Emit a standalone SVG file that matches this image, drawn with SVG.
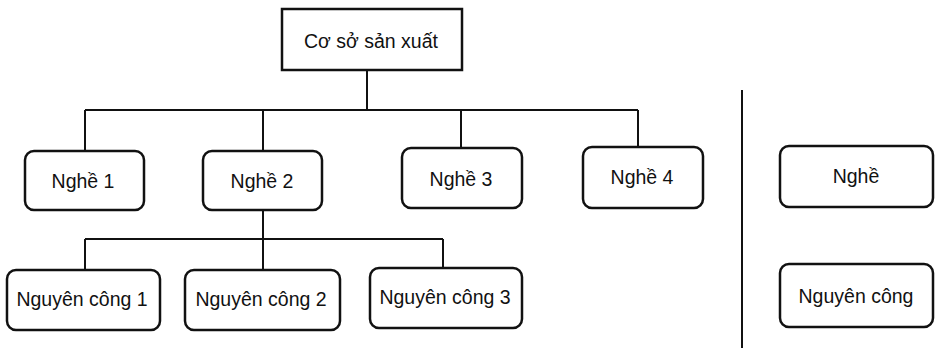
<svg xmlns="http://www.w3.org/2000/svg" width="937" height="348" viewBox="0 0 937 348">
<style>
.box{fill:#fff;stroke:#111;stroke-width:2.5}
.ln{fill:none;stroke:#111;stroke-width:2}
text{font-family:"Liberation Sans",Arial,sans-serif;font-size:19.5px;fill:#111;text-anchor:middle}
</style>
<rect width="937" height="348" fill="#fff"/>
<g id="connectors">
<path class="ln" d="M367 70V110M85 110H638M85 110V151M263 110V151M461 110V148M638 110V147"/>
<path class="ln" d="M85 239H443M263 210V270M85 239V270M443 239V268"/>
<path class="ln" d="M742 90V348"/>
</g>
<g id="root"><rect class="box" x="282" y="9" width="180" height="61"/><text x="371" y="48">Cơ sở sản xuất</text></g>
<g id="nghe1"><rect class="box" x="25" y="151" width="119" height="59" rx="9"/><text x="83" y="188">Nghề 1</text></g>
<g id="nghe2"><rect class="box" x="203" y="151" width="119" height="59" rx="9"/><text x="262" y="188">Nghề 2</text></g>
<g id="nghe3"><rect class="box" x="402" y="148" width="120" height="60" rx="9"/><text x="461" y="186">Nghề 3</text></g>
<g id="nghe4"><rect class="box" x="583" y="147" width="120" height="61" rx="9"/><text x="642" y="184">Nghề 4</text></g>
<g id="nc1"><rect class="box" x="7" y="270" width="153" height="60" rx="9"/><text x="82" y="306">Nguyên công 1</text></g>
<g id="nc2"><rect class="box" x="185" y="270" width="155" height="60" rx="9"/><text x="261" y="306">Nguyên công 2</text></g>
<g id="nc3"><rect class="box" x="370" y="268" width="152" height="60" rx="9"/><text x="445" y="304">Nguyên công 3</text></g>
<g id="legend-nghe"><rect class="box" x="780" y="146" width="153" height="61" rx="9"/><text x="856" y="183">Nghề</text></g>
<g id="legend-nc"><rect class="box" x="780" y="264" width="153" height="63" rx="9"/><text x="856" y="303">Nguyên công</text></g>
</svg>
